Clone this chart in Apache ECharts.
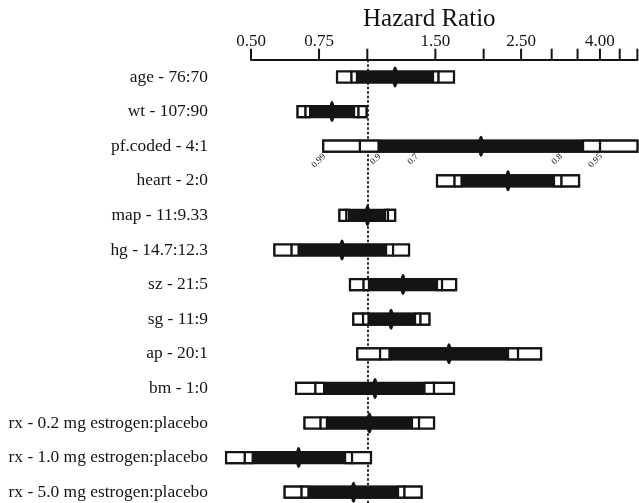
<!DOCTYPE html>
<html>
<head>
<meta charset="utf-8">
<script src="https://cdn.jsdelivr.net/npm/echarts@6/dist/echarts.min.js"></script>
<style>
  html, body { margin: 0; background: #fff; }
  #chart { width: 639px; height: 503px; }
</style>
</head>
<body>
<div id="chart"></div>
<script>
const labels = [
  "age - 76:70", "wt - 107:90", "pf.coded - 4:1", "heart - 2:0", "map - 11:9.33",
  "hg - 14.7:12.3", "sz - 21:5", "sg - 11:9", "ap - 20:1", "bm - 1:0",
  "rx - 0.2 mg estrogen:placebo", "rx - 1.0 mg estrogen:placebo", "rx - 5.0 mg estrogen:placebo"
];
// hazard ratio estimates and nested confidence limits
const est  = [1.180, 0.810, 1.969, 2.313, 1.001, 0.860, 1.237, 1.152, 1.627, 1.047, 1.013, 0.664, 0.921];
const lo99 = [0.835, 0.660, 0.769, 1.515, 0.847, 0.575, 0.902, 0.920, 0.942, 0.654, 0.688, 0.431, 0.611];
const lo95 = [0.910, 0.692, 0.957, 1.682, 0.883, 0.637, 0.978, 0.975, 1.079, 0.734, 0.757, 0.482, 0.676];
const lo90 = [0.940, 0.711, 1.069, 1.753, 0.897, 0.664, 1.010, 1.007, 1.141, 0.773, 0.786, 0.505, 0.704];
const hi90 = [1.479, 0.924, 3.617, 3.042, 1.111, 1.118, 1.515, 1.329, 2.313, 1.406, 1.305, 0.876, 1.201];
const hi95 = [1.529, 0.949, 4.002, 3.181, 1.131, 1.166, 1.561, 1.373, 2.455, 1.488, 1.361, 0.913, 1.248];
const hi99 = [1.676, 0.995, 5.000, 3.531, 1.180, 1.282, 1.697, 1.447, 2.816, 1.676, 1.488, 1.022, 1.381];

const tickValues = [0.5, 0.75, 1, 1.5, 2, 2.5, 3, 3.5, 4, 4.5, 5];
const tickLabels = ["0.50", "0.75", "", "1.50", "", "2.50", "", "", "4.00", "", ""];

// confidence level key written under the pf.coded bar
const confLevels = ["0.7", "0.8", "0.9", "0.95", "0.99"];
const confLabelAt = [1.337, 3.153, 1.069, 4.002, 0.769];
const confRow = 2;

const serif = '"Liberation Serif", "DejaVu Serif", serif';
const ink = "#141414";

const barData = labels.map((_, i) => [lo99[i], lo95[i], lo90[i], est[i], hi90[i], hi95[i], hi99[i], i]);

function renderBar(params, api) {
  const i = api.value(7);
  const y = api.coord([1, i])[1];
  const X = [0, 1, 2, 3, 4, 5, 6].map(k => api.coord([api.value(k), i])[0]);
  const h = 11;
  const box = (a, b) => ({
    type: "rect",
    shape: { x: a, y: y - h / 2, width: b - a, height: h },
    style: { fill: "#fff", stroke: ink, lineWidth: 2.2 }
  });
  return {
    type: "group",
    children: [
      box(X[0], X[6]),
      box(X[0], X[1]),
      box(X[1], X[2]),
      box(X[4], X[5]),
      box(X[5], X[6]),
      { type: "rect", shape: { x: X[2], y: y - h / 2 - 1, width: X[4] - X[2], height: h + 2 }, style: { fill: ink } },
      { type: "ellipse", shape: { cx: X[3], cy: y, rx: 2.8, ry: 10.5 }, style: { fill: ink } }
    ]
  };
}

function renderTick(params, api) {
  const x = api.coord([api.value(0), 0])[0];
  const top = params.coordSys.y;
  return {
    type: "group",
    children: [
      { type: "line", shape: { x1: x, y1: top, x2: x, y2: top - 11 }, style: { stroke: ink, lineWidth: 2 } },
      {
        type: "text", x: x, y: top - 10,
        style: { text: tickLabels[params.dataIndex], fill: ink, font: "17px " + serif, align: "center", verticalAlign: "bottom" }
      }
    ]
  };
}

function renderConf(params, api) {
  const p = api.coord([api.value(0), api.value(1)]);
  return {
    type: "text", x: p[0] + 1, y: p[1] + 9, rotation: Math.PI / 4,
    style: { text: confLevels[params.dataIndex], fill: ink, font: "9px " + serif, align: "right", verticalAlign: "middle" }
  };
}

const chart = echarts.init(document.getElementById("chart"));
chart.setOption({
  animation: false,
  backgroundColor: "#fff",
  title: {
    text: "Hazard Ratio",
    left: 363, top: 7, padding: 0,
    textStyle: { fontFamily: serif, fontSize: 25, fontWeight: "normal", color: ink }
  },
  grid: { left: 251, right: 1.6, top: 59.7, height: 449.8, outerBoundsMode: "none" },
  xAxis: {
    type: "log",
    min: 0.5,
    max: 5,
    position: "top",
    axisLine: { show: true, lineStyle: { color: ink, width: 2 } },
    axisTick: { show: false },
    axisLabel: { show: false },
    splitLine: { show: false }
  },
  yAxis: {
    type: "category",
    data: labels,
    inverse: true,
    axisLine: { show: false },
    axisTick: { show: false },
    axisLabel: { fontFamily: serif, fontSize: 17.4, color: ink, margin: 43, padding: [3, 0, 0, 0] }
  },
  series: [
    {
      type: "custom",
      z: 1,
      renderItem: renderTick,
      data: tickValues.map(v => [v, 0]),
      encode: { x: 0, y: 1 },
      markLine: {
        z: 1,
        silent: true,
        symbol: "none",
        label: { show: false },
        lineStyle: { color: ink, type: [2.5, 2], width: 1.8 },
        data: [{ xAxis: 1 }]
      }
    },
    {
      type: "custom",
      z: 10,
      renderItem: renderBar,
      data: barData,
      encode: { x: [0, 1, 2, 3, 4, 5, 6], y: 7 }
    },
    {
      type: "custom",
      z: 11,
      renderItem: renderConf,
      data: confLabelAt.map(v => [v, confRow]),
      encode: { x: 0, y: 1 }
    }
  ]
});
</script>
</body>
</html>
